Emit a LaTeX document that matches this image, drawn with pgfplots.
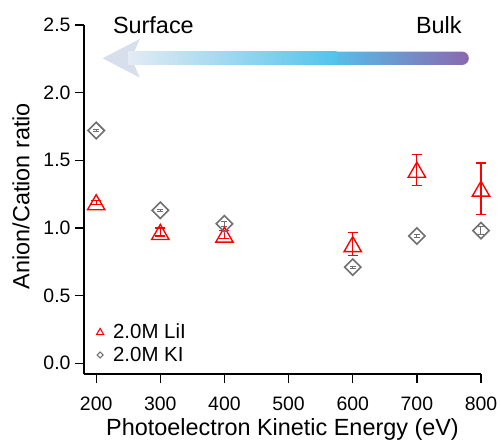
\documentclass[border=0pt]{standalone}
\usepackage{fontspec}
\setmainfont{Liberation Sans}
\usepackage{pgfplots}
\pgfplotsset{compat=1.18}
\definecolor{headc}{HTML}{D6DFEB}
\definecolor{palec}{HTML}{E4EBF4}
\definecolor{bluec}{HTML}{52C3EC}
\definecolor{purpc}{HTML}{8B68AE}
\definecolor{grayc}{HTML}{707070}
\begin{document}
\begin{tikzpicture}
\begin{axis}[
  name=ax,
  scale only axis,
  width=397bp, height=349bp,
  xmin=181, xmax=800, ymin=-0.08, ymax=2.5,
  axis lines=left,
  axis line style={-, line width=1.3bp, black},
  xtick={200,300,...,800},
  ytick={0,0.5,...,2.5},
  tick align=outside,
  major tick length=9bp,
  tick style={line width=1.3bp, black},
  /pgf/number format/assume math mode=true,
  ticklabel style={font=\fontsize{19.5}{23}\selectfont},
  yticklabel style={xshift=-1bp, /pgf/number format/.cd, fixed, fixed zerofill, precision=1},
  xticklabel style={yshift=-10bp, /pgf/number format/.cd, fixed, precision=0, 1000 sep={}},
  xlabel={Photoelectron Kinetic Energy (eV)},
  ylabel={Anion/Cation ratio},
  label style={font=\fontsize{23.5}{28}\selectfont},
  xlabel style={at={(axis description cs:0.5,-0.1748)}, anchor=base},
  ylabel style={at={(axis description cs:-0.1587,0.51)}, anchor=center},
  clip=false,
  legend style={at={(axis description cs:0.02,0.15)}, anchor=north west, draw=none, fill=none,
    font=\fontsize{20.5}{24}\selectfont, row sep=3bp, inner sep=0pt},
  legend cell align=left,
]
% decorative arrow
\fill[headc] (axis cs:210,2.254) -- (axis cs:268,2.397) -- (axis cs:255,2.254) -- (axis cs:268,2.111) -- cycle;
\shade[left color=bluec, right color=purpc, rounded corners=6.7bp] (axis cs:560,2.2045) rectangle (axis cs:781,2.3035);
\shade[left color=palec, right color=bluec] (axis cs:250,2.2045) rectangle (axis cs:575,2.3035);
\node[anchor=base west, inner sep=0pt, font=\fontsize{23.5}{28}\selectfont] at (axis cs:226,2.439) {Surface};
\node[anchor=base east, inner sep=0pt, font=\fontsize{23.5}{28}\selectfont] at (axis cs:770,2.439) {Bulk};

\addplot[only marks, color=red, line width=1.4bp, mark=triangle, mark size=10bp,
  mark options={yshift=-2.5bp},
  legend image code/.code={\path[draw=none, fill=none] (0bp,-4bp) rectangle (19bp,4bp);
    \draw[red, line width=1.1bp, line join=miter] (8bp,3.6bp) -- (11.6bp,-2.6bp) -- (4.4bp,-2.6bp) -- cycle;},
  error bars/.cd, y dir=both, y explicit,
  error bar style={red, line width=1.2bp},
  error mark options={red, mark size=5bp, line width=1.2bp, rotate=90},
  ] table[x=x, y=y, y error=e] {
x y e
200 1.19 0.015
300 0.97 0.03
400 0.95 0.03
600 0.88 0.085
700 1.43 0.115
800 1.29 0.19
};
\addlegendentry{2.0M LiI}
\addplot[only marks, color=grayc, line width=1.6bp, mark=square, mark size=5.8bp,
  mark options={rotate=45},
  legend image code/.code={\path[draw=none, fill=none] (0bp,-4bp) rectangle (19bp,4bp);
    \draw[grayc, line width=1.2bp] (8bp,3bp) -- (11bp,0bp) -- (8bp,-3bp) -- (5bp,0bp) -- cycle;},
  error bars/.cd, y dir=both, y explicit,
  error bar style={grayc, line width=1bp},
  error mark options={grayc, mark size=3bp, line width=1bp, rotate=90},
  ] table[x=x, y=y, y error=e] {
x y e
200 1.72 0.008
300 1.13 0.008
400 1.03 0.02
600 0.71 0.008
700 0.94 0.01
800 0.98 0.03
};
\addlegendentry{2.0M KI}
\end{axis}
\path (ax.south west) ++(-84bp,-67bp) coordinate (bl);
\pgfresetboundingbox
\useasboundingbox (bl) rectangle ++(501bp,441bp);
\end{tikzpicture}
\end{document}
